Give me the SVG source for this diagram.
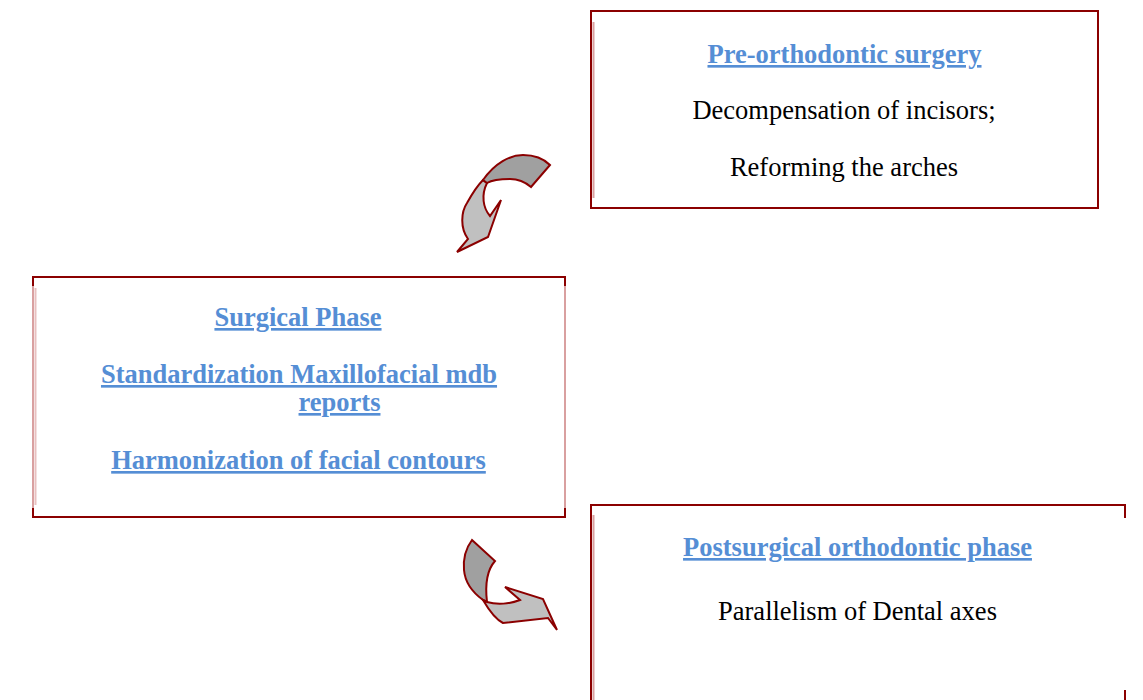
<svg xmlns="http://www.w3.org/2000/svg" width="1143" height="700" viewBox="0 0 1143 700">
<style>
.box{fill:#fff;stroke:#8b0000;stroke-width:2}
.shade{stroke:#d9a0a0;stroke-width:2;fill:none}
.t{font-family:"Liberation Serif","Times New Roman",serif;font-size:26.5px;text-anchor:middle}
.h{font-weight:bold;fill:#558ed5;text-decoration:underline}
.n{fill:#000}
.dk{fill:#a0a0a0;stroke:#8b0000;stroke-width:2;stroke-linejoin:miter}
.lt{fill:#c0c0c0;stroke:#8b0000;stroke-width:2;stroke-linejoin:miter}
</style>
<rect width="1143" height="700" fill="#fff"/>
<g id="node-pre">
<rect class="box" x="591" y="11" width="507" height="197"/>
<line class="shade" x1="593.5" y1="22" x2="593.5" y2="198"/>
<text class="t h" x="844.5" y="63">Pre-orthodontic surgery</text>
<text class="t n" x="844" y="119">Decompensation of incisors;</text>
<text class="t n" x="844" y="176">Reforming the arches</text>
</g>
<g id="node-surgical">
<rect class="box" x="33" y="277" width="532" height="240"/>
<line x1="33" y1="286" x2="33" y2="508" stroke="#d9a0a0" stroke-width="2"/>
<line x1="35.5" y1="288" x2="35.5" y2="505" stroke="#e8c0c0" stroke-width="2"/>
<line x1="565" y1="286" x2="565" y2="508" stroke="#d9a0a0" stroke-width="2"/>
<text class="t h" x="298" y="326">Surgical Phase</text>
<text class="t h" x="299" y="383">Standardization Maxillofacial mdb</text>
<text class="t h" x="339.5" y="411">reports</text>
<text class="t h" x="298.5" y="469">Harmonization of facial contours</text>
</g>
<g id="node-post">
<path class="box" d="M591 701 V505 H1125 V701" fill="#fff"/>
<line x1="1125" y1="518" x2="1125" y2="690" stroke="#fff" stroke-width="3"/>
<line class="shade" x1="593.5" y1="515" x2="593.5" y2="700"/>
<text class="t h" x="857.5" y="556">Postsurgical orthodontic phase</text>
<text class="t n" x="857.5" y="620">Parallelism of Dental axes</text>
</g>
<g id="connectors">
<g id="arrow-top">
<path class="lt" d="M487,183 C481,195 483,208 490,216 L501,200 L488,237 L457,252 L468,239 C460,228 461,212 467,203 C472,194 477,186 483,180 Z"/>
<path class="dk" d="M483,180 C495,163 510,155 523,155 C535,155 544,159 550,165 L531,187 C524,181 518,179 510,179 C500,179 492,180 487,183 Z"/>
</g>
<g id="arrow-bottom">
<path class="dk" d="M472,540 L495,561 C487,570 485,585 487,602 L483,600 C472,592 465,582 464,570 C463,558 466,548 472,540 Z"/>
<path class="lt" d="M487,602 C497,605 510,604 520,600 L505,587 L543,599 L557,630 L548,618 L503,623 C497,620 490,612 483,600 Z"/>
</g>
</g>
</svg>
